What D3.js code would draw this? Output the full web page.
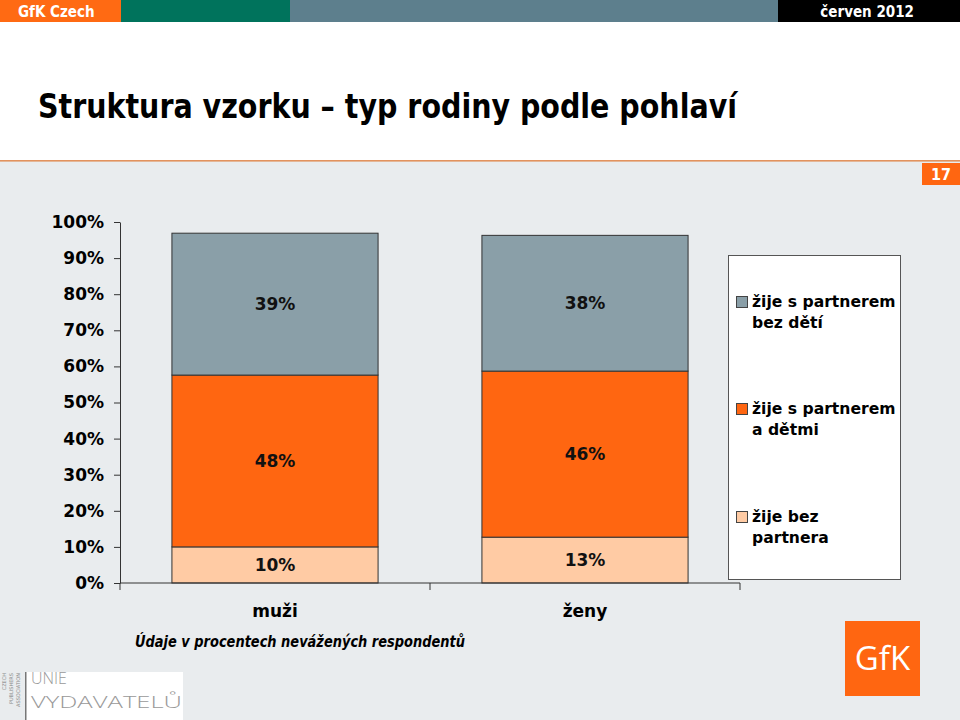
<!DOCTYPE html>
<html><head><meta charset="utf-8">
<script src="https://cdn.jsdelivr.net/npm/d3@7"></script>
<style>body{margin:0;background:#fff}svg{display:block}</style>
</head><body>
<script>
const categories = ["muži", "ženy"];
const seriesNames = ["žije bez partnera", "žije s partnerem a dětmi", "žije s partnerem bez dětí"];
const legendLines = [["žije s partnerem", "bez dětí"], ["žije s partnerem", "a dětmi"], ["žije bez", "partnera"]];
const bezPartnera = [10.0, 12.7];
const sDetmi = [47.6, 46.0];
const bezDeti = [39.3, 37.6];
const valueLabels = [["10%", "48%", "39%"], ["13%", "46%", "38%"]];
const yTicks = [0, 10, 20, 30, 40, 50, 60, 70, 80, 90, 100];
const colors = ["#FFCBA4", "#FF6611", "#8A9FA8"];

const W = 960, H = 720;
const svg = d3.select("body").append("svg").attr("width", W).attr("height", H);

// background
svg.append("rect").attr("x", 0).attr("y", 0).attr("width", W).attr("height", H).attr("fill", "#fff");
svg.append("rect").attr("x", 0).attr("y", 161).attr("width", W).attr("height", H - 161).attr("fill", "#E9ECEE");
svg.append("rect").attr("x", 0).attr("y", 160).attr("width", W).attr("height", 1.6).attr("fill", "#E2925E");

// header
const hdr = [[0, 121, "#FF6A13"], [121, 290, "#00735C"], [290, 778, "#5D7F8D"], [778, 960, "#000"]];
hdr.forEach(h => svg.append("rect").attr("x", h[0]).attr("y", 0).attr("width", h[1] - h[0]).attr("height", 22).attr("fill", h[2]));
svg.append("text").attr("x", 18).attr("y", 17).attr("fill", "#fff")
  .style("font", "bold 15px 'DejaVu Sans Condensed','DejaVu Sans',sans-serif").text("GfK Czech");
svg.append("text").attr("x", 914).attr("y", 17).attr("fill", "#fff").attr("text-anchor", "end")
  .style("font", "bold 15px 'DejaVu Sans Condensed','DejaVu Sans',sans-serif").text("červen  2012");

// title
svg.append("text").attr("x", 38).attr("y", 118).attr("fill", "#000")
  .attr("textLength", 699).attr("lengthAdjust", "spacingAndGlyphs")
  .style("font", "bold 34px 'DejaVu Sans Condensed','DejaVu Sans',sans-serif")
  .text("Struktura vzorku – typ rodiny podle pohlaví");

// page number
svg.append("rect").attr("x", 922).attr("y", 163).attr("width", 38).attr("height", 22).attr("fill", "#FF6611");
svg.append("text").attr("x", 941).attr("y", 180).attr("fill", "#fff").attr("text-anchor", "middle")
  .style("font", "bold 16px 'DejaVu Sans Condensed','DejaVu Sans',sans-serif").text("17");

// scales
const y = d3.scaleLinear().domain([0, 100]).range([583, 222]);
const x = d3.scaleBand().domain(categories).range([120, 740]).paddingInner(0.335).paddingOuter(0.1675);

// stacked data
const rows = categories.map((c, i) => ({cat: c, s0: bezPartnera[i], s1: sDetmi[i], s2: bezDeti[i]}));
const stack = d3.stack().keys(["s0", "s1", "s2"])(rows);

const fontBold = "bold 17px 'DejaVu Sans',Verdana,sans-serif";

stack.forEach((layer, li) => {
  layer.forEach((d, ci) => {
    svg.append("rect")
      .attr("x", x(d.data.cat)).attr("width", x.bandwidth())
      .attr("y", y(d[1])).attr("height", y(d[0]) - y(d[1]))
      .attr("fill", colors[li]).attr("stroke", "#333").attr("stroke-width", 1);
    svg.append("text")
      .attr("x", x(d.data.cat) + x.bandwidth() / 2)
      .attr("y", (y(d[0]) + y(d[1])) / 2)
      .attr("dy", "0.36em").attr("text-anchor", "middle")
      .style("font", fontBold).attr("fill", "#111")
      .text(valueLabels[ci][li]);
  });
});

// y axis
const yAxis = d3.axisLeft(y).tickValues(yTicks).tickFormat(d => d + "%").tickSize(6).tickPadding(10).tickSizeOuter(0);
const gy = svg.append("g").attr("transform", "translate(120,0)").call(yAxis);
gy.selectAll("text").style("font", fontBold).attr("fill", "#000");
gy.selectAll("line,path").attr("stroke", "#333");

// x axis
const xBounds = [120].concat(categories.map(c => x(c) - x.step() * x.paddingInner() / 2 + x.step()));
svg.append("line").attr("x1", 120).attr("x2", 740).attr("y1", y(0)).attr("y2", y(0)).attr("stroke", "#333");
xBounds.forEach(b => svg.append("line").attr("x1", b).attr("x2", b).attr("y1", y(0)).attr("y2", y(0) + 7).attr("stroke", "#333"));
categories.forEach(c => svg.append("text").attr("x", x(c) + x.bandwidth() / 2).attr("y", 617)
  .attr("text-anchor", "middle").style("font", fontBold).attr("fill", "#000").text(c));

// legend
svg.append("rect").attr("x", 728.5).attr("y", 255.5).attr("width", 172).attr("height", 324)
  .attr("fill", "#fff").attr("stroke", "#555").attr("stroke-width", 1);
const legOrder = [2, 1, 0];
const legY = [307, 414, 522];
legOrder.forEach((si, k) => {
  svg.append("rect").attr("x", 736.5).attr("y", legY[k] - 10.5).attr("width", 11).attr("height", 11)
    .attr("fill", colors[si]).attr("stroke", "#444").attr("stroke-width", 1);
  legendLines[k].forEach((ln, j) => svg.append("text").attr("x", 752).attr("y", legY[k] + j * 21)
    .style("font", "bold 15.6px 'DejaVu Sans',Verdana,sans-serif").attr("fill", "#000").text(ln));
});

// note
svg.append("text").attr("x", 135).attr("y", 647)
  .attr("textLength", 330).attr("lengthAdjust", "spacingAndGlyphs")
  .style("font", "italic bold 15px 'DejaVu Sans',Verdana,sans-serif").attr("fill", "#000")
  .text("Údaje v procentech nevážených respondentů");

// Unie vydavatelů logo
svg.append("rect").attr("x", 25).attr("y", 672).attr("width", 158).attr("height", 48).attr("fill", "#fff");
svg.append("rect").attr("x", 25).attr("y", 672).attr("width", 1.5).attr("height", 48).attr("fill", "#777");
svg.append("text").attr("x", 31).attr("y", 684).attr("fill", "#999")
  .style("font", "300 16px 'Open Sans','DejaVu Sans',sans-serif").text("UNIE");
svg.append("text").attr("x", 31).attr("y", 708).attr("fill", "#999")
  .attr("textLength", 151).attr("lengthAdjust", "spacingAndGlyphs")
  .style("font", "300 17px 'Open Sans','DejaVu Sans',sans-serif").text("VYDAVATELŮ");
["CZECH", "PUBLISHERS", "ASSOCIATION"].forEach((t, i) => {
  svg.append("text").attr("transform", `translate(${6 + i * 7},${673}) rotate(-90)`)
    .attr("text-anchor", "end")
    .attr("fill", "#888").style("font", "5px 'DejaVu Sans',sans-serif").text(t);
});

// GfK logo
svg.append("rect").attr("x", 845).attr("y", 621).attr("width", 75).attr("height", 75).attr("fill", "#FF6611");
svg.append("text").attr("x", 882.5).attr("y", 670).attr("text-anchor", "middle").attr("fill", "#fff")
  .style("font", "33px 'Open Sans','DejaVu Sans',sans-serif").text("GfK");
</script>
</body></html>
